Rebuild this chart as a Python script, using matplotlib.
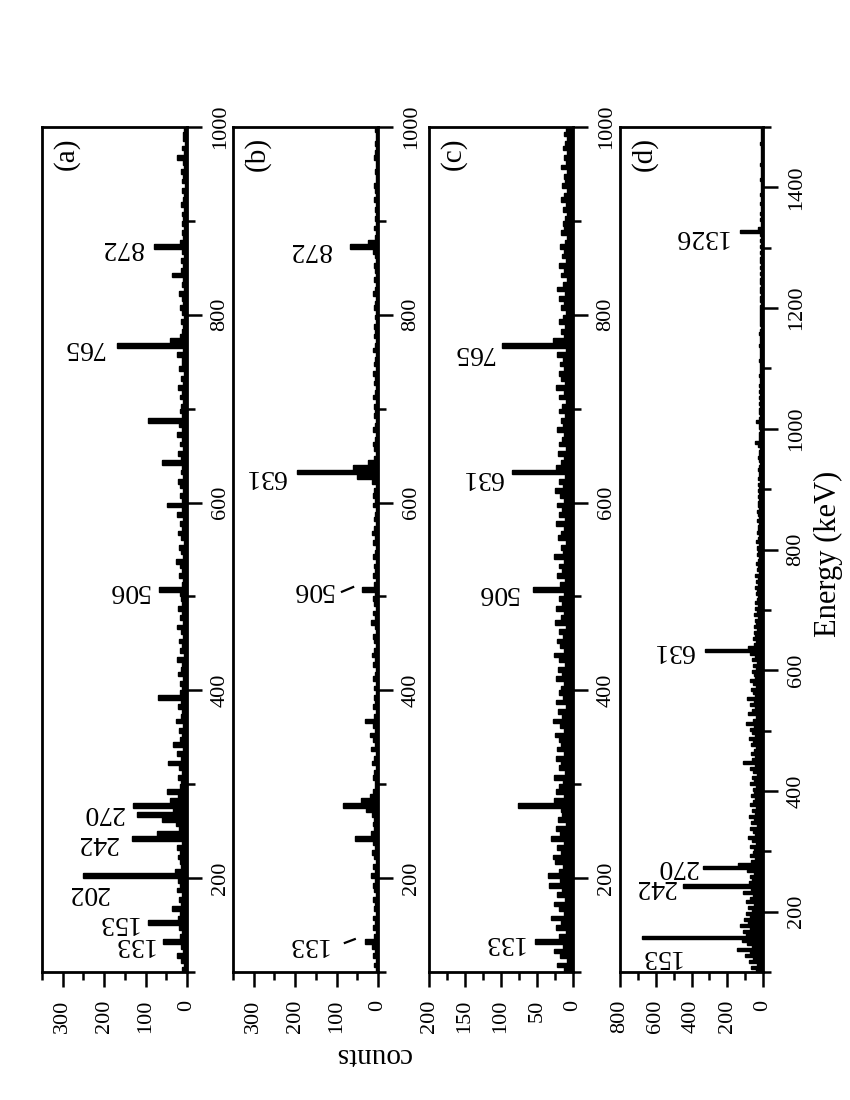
import numpy as np
import matplotlib
matplotlib.use("Agg")
import matplotlib.pyplot as plt
from matplotlib.ticker import MultipleLocator

plt.rcParams["font.family"] = ["Liberation Serif", "DejaVu Serif"]

# spectra, 5 keV bins starting at 100 keV (one row = 100 keV)
bin_width = 5
e_start = 100

counts_a = [
    12, 8, 15, 24, 10, 14, 58, 18, 11, 20, 94, 22, 16, 36, 14, 19, 12, 25, 17, 21,
    250, 30, 14, 18, 22, 16, 24, 12, 133, 72, 20, 26, 60, 120, 34, 130, 40, 22, 48, 18,
    15, 22, 12, 19, 46, 14, 24, 10, 34, 18, 13, 20, 9, 26, 15, 11, 22, 14, 70, 16,
    12, 18, 9, 22, 14, 11, 25, 8, 16, 13, 20, 10, 15, 24, 9, 17, 12, 21, 11, 14,
    18, 68, 13, 9, 20, 12, 16, 26, 10, 14, 19, 8, 15, 22, 11, 17, 9, 24, 13, 48,
    12, 18, 10, 16, 21, 9, 14, 11, 60, 15, 22, 10, 17, 13, 25, 12, 20, 94, 11, 16,
    14, 9, 18, 12, 22, 10, 15, 8, 19, 13, 11, 24, 9, 169, 40, 16, 12, 10, 14, 8,
    11, 16, 9, 13, 20, 8, 12, 10, 36, 15, 9, 14, 7, 12, 80, 18, 10, 13, 8, 11,
    9, 12, 7, 15, 10, 8, 13, 6, 11, 9, 14, 7, 10, 24, 8, 12, 6, 10, 9, 7,
]

counts_b = [
    6, 10, 4, 12, 8, 14, 31, 9, 5, 11, 7, 13, 6, 10, 8, 12, 5, 9, 11, 7,
    18, 8, 12, 6, 10, 14, 7, 11, 55, 16, 9, 13, 10, 15, 30, 84, 40, 20, 12, 8,
    7, 12, 9, 5, 14, 10, 6, 16, 8, 11, 20, 7, 13, 31, 9, 6, 12, 8, 10, 5,
    9, 6, 12, 8, 5, 11, 7, 14, 9, 6, 10, 13, 5, 8, 16, 7, 11, 6, 9, 12,
    8, 39, 10, 6, 13, 7, 9, 5, 12, 8, 6, 11, 7, 15, 9, 5, 10, 8, 6, 11,
    7, 12, 9, 6, 14, 50, 196, 60, 24, 10, 6, 9, 13, 7, 5, 11, 8, 6, 10, 7,
    9, 6, 11, 7, 5, 10, 8, 13, 6, 9, 7, 5, 12, 8, 6, 10, 7, 9, 5, 8,
    6, 9, 7, 5, 11, 8, 6, 10, 5, 7, 9, 6, 8, 12, 68, 25, 7, 5, 9, 6,
    7, 5, 8, 6, 10, 5, 7, 9, 6, 4, 8, 6, 5, 9, 7, 5, 8, 6, 4, 7,
]

counts_c = [
    12, 22, 8, 18, 26, 14, 53, 20, 10, 24, 16, 30, 12, 19, 27, 11, 22, 15, 33, 18,
    35, 20, 14, 25, 28, 16, 22, 12, 30, 18, 24, 10, 21, 15, 17, 76, 26, 13, 23, 19,
    14, 26, 11, 20, 17, 24, 13, 22, 16, 19, 25, 12, 18, 28, 15, 21, 10, 23, 14, 20,
    17, 12, 24, 15, 21, 11, 19, 26, 13, 18, 22, 14, 20, 10, 25, 16, 12, 23, 15, 19,
    13, 55, 18, 11, 22, 15, 20, 12, 26, 14, 17, 10, 21, 16, 13, 24, 11, 19, 15, 22,
    12, 18, 25, 14, 20, 11, 85, 24, 16, 13, 21, 10, 19, 15, 12, 22, 14, 17, 11, 20,
    15, 10, 19, 13, 24, 11, 16, 20, 12, 18, 14, 22, 10, 98, 28, 13, 17, 11, 20, 14,
    10, 16, 13, 19, 11, 22, 14, 9, 17, 12, 20, 10, 15, 13, 18, 11, 9, 16, 12, 14,
    11, 8, 14, 10, 17, 12, 9, 15, 11, 13, 8, 16, 10, 12, 9, 14, 11, 8, 13, 10,
]

counts_d = [
    40, 65, 35, 80, 55, 100, 70, 145, 60, 90, 120, 676, 95, 110, 75, 130, 85, 105, 70, 95,
    60, 85, 50, 95, 70, 55, 110, 65, 447, 80, 60, 75, 50, 90, 335, 140, 65, 45, 70, 55,
    50, 75, 40, 60, 85, 45, 55, 70, 35, 65, 50, 80, 45, 60, 38, 72, 55, 42, 65, 50,
    58, 40, 70, 48, 62, 35, 55, 75, 45, 112, 60, 42, 68, 50, 38, 65, 55, 80, 45, 60,
    70, 48, 95, 55, 40, 85, 60, 45, 72, 50, 90, 42, 58, 65, 38, 55, 70, 45, 50, 62,
    40, 55, 35, 60, 45, 70, 324, 85, 50, 38, 55, 42, 48, 35, 52, 40, 45, 30, 48, 36,
    42, 30, 45, 35, 28, 40, 32, 45, 26, 38, 30, 42, 25, 35, 28, 40, 30, 24, 36, 28,
    32, 25, 38, 28, 22, 34, 26, 30, 20, 35, 24, 28, 32, 22, 30, 26, 20, 28, 24, 30,
    22, 28, 18, 26, 24, 20, 30, 22, 18, 25, 28, 20, 24, 18, 26, 45, 22, 20, 25, 18,
    20, 24, 38, 22, 18, 25, 20, 16, 22, 19, 24, 17, 20, 15, 22, 18, 16, 21, 19, 17,
    18, 15, 20, 16, 14, 19, 17, 22, 15, 18, 14, 20, 16, 13, 18, 15, 19, 14, 17, 15,
    16, 13, 18, 14, 12, 17, 15, 13, 19, 14, 12, 16, 13, 15, 11, 17, 14, 12, 16, 13,
    14, 12, 15, 11, 16, 128, 30, 13, 11, 15, 12, 14, 10, 13, 15, 11, 12, 14, 10, 13,
    12, 10, 14, 11, 13, 9, 12, 15, 10, 11, 13, 9, 12, 10, 14, 11, 9, 12, 10, 11,
]

# peak labels: (text, counts position, energy position)
labels_a = [("133", 130, 129), ("153", 169, 153), ("202", 239, 185), ("242", 217, 238),
            ("270", 202, 270), ("506", 142, 506), ("765", 251, 765), ("872", 157, 872)]
labels_b = [("133", 171, 129), ("506", 159, 507), ("631", 273, 628), ("872", 164, 869)]
labels_c = [("133", 98, 131), ("506", 105, 504), ("631", 126, 627), ("765", 139, 760)]
labels_d = [("153", 575, 125), ("242", 603, 241), ("270", 480, 274), ("631", 503, 632),
            ("1326", 352, 1319)]

# short leader strokes in panel (b): (counts1, counts2, energy1, energy2)
leaders_b = [(80, 56, 131, 135), (87, 60, 505, 510)]

panels = [
    # tag, counts, labels, count max, major, minor, energy max, left px, width px
    ("(a)", counts_a, labels_a, 350, 100, 50, 1000, 42, 145),
    ("(b)", counts_b, labels_b, 350, 100, 50, 1000, 233, 145),
    ("(c)", counts_c, labels_c, 200, 50, 25, 1000, 429, 144),
    ("(d)", counts_d, labels_d, 800, 200, 100, 1500, 620, 143),
]

W, H = 850, 1100
fig = plt.figure(figsize=(W / 100, H / 100), dpi=100)

axes = []
for tag, vals, labs, cmax, cmaj, cmin, emax, left, width in panels:
    ax = fig.add_axes([left / W, 1 - 972 / H, width / W, 845 / H])
    edges = e_start + bin_width * np.arange(len(vals) + 1)
    ax.stairs(vals, edges, orientation="horizontal", baseline=0, fill=True,
              color="black")
    ax.stairs(vals, edges, orientation="horizontal", baseline=0,
              color="black", linewidth=1.0)
    ax.set_xlim(cmax, 0)
    ax.set_ylim(100, emax)

    ax.xaxis.set_major_locator(MultipleLocator(cmaj))
    ax.xaxis.set_minor_locator(MultipleLocator(cmin))
    ax.yaxis.set_major_locator(MultipleLocator(200))
    ax.yaxis.set_minor_locator(MultipleLocator(100))

    ax.yaxis.tick_right()
    ax.tick_params(axis="both", which="both", direction="out", width=1.8,
                   top=False, left=False, labelsize=16,
                   labelfontfamily="Liberation Serif")
    ax.tick_params(axis="both", which="major", length=11)
    ax.tick_params(axis="both", which="minor", length=6)
    ax.tick_params(axis="x", labelrotation=90, pad=9)
    ax.tick_params(axis="y", labelrotation=90, pad=6)
    for lab in ax.get_yticklabels():
        lab.set_verticalalignment("center")
    for s in ax.spines.values():
        s.set_linewidth(2.0)

    ax.text(0.17, 0.968, tag, transform=ax.transAxes, rotation=90,
            ha="center", va="center", fontsize=21)
    for txt, cx, ey in labs:
        ax.text(cx, ey, txt, rotation=180, ha="center", va="center", fontsize=20)
    axes.append(ax)

for c1, c2, e1, e2 in leaders_b:
    axes[1].plot([c1, c2], [e1, e2], color="black", linewidth=1.6)

fig.text(373 / W, 1 - 1055 / H, "counts", rotation=180,
         ha="center", va="center", fontsize=21)
fig.text(828 / W, 1 - 554 / H, "Energy (keV)", rotation=90,
         ha="center", va="center", fontsize=22)

fig.savefig("out.png", dpi=100)
